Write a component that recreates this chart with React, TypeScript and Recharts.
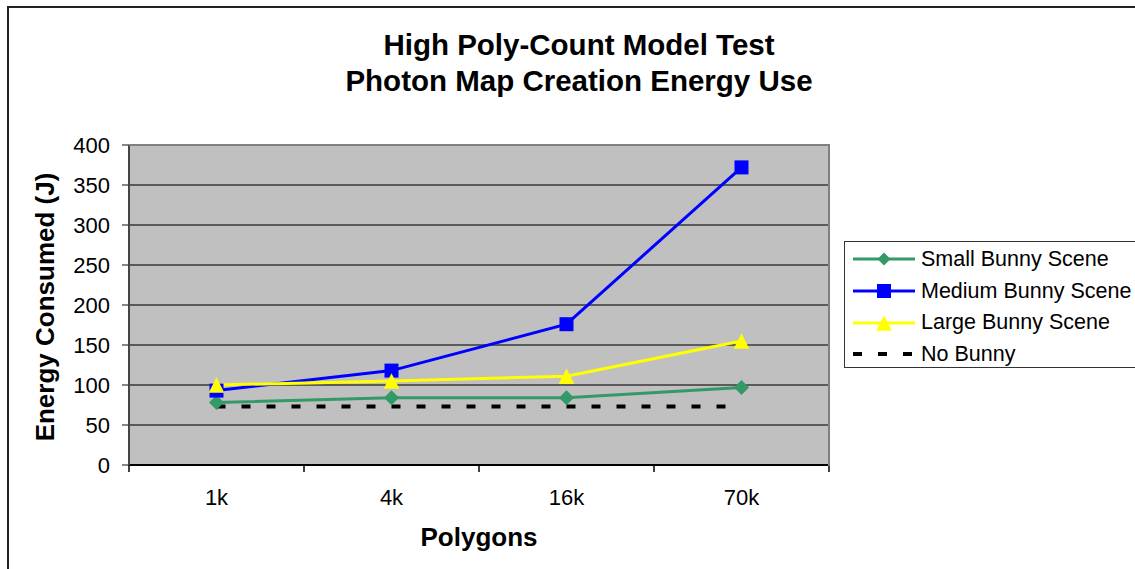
import { LineChart, Line, XAxis, YAxis, CartesianGrid } from 'recharts'

const polygons = ['1k', '4k', '16k', '70k']
const smallBunny = [78, 84, 84, 97]
const mediumBunny = [93, 118, 176, 372]
const largeBunny = [100, 105, 111, 155]
const noBunny = [73, 73, 73, 73]
const yTicks = [0, 50, 100, 150, 200, 250, 300, 350, 400]

const W = 1135
const H = 569
const PLOT_LEFT = 129
const PLOT_TOP = 145
const PLOT_W = 700
const PLOT_H = 320
const Y_AXIS_W = 60
const X_AXIS_H = 40
const BAND = PLOT_W / polygons.length
const FONT = '"Liberation Sans", Arial, Helvetica, sans-serif'

const GREEN = '#339966'
const BLUE = '#0000FF'
const YELLOW = '#FFFF00'

const data = polygons.map((p, i) => ({
  name: p,
  small: smallBunny[i],
  medium: mediumBunny[i],
  large: largeBunny[i],
  none: noBunny[i],
}))

const diamondPath = (x: number, y: number, r: number) =>
  `M${x},${y - r}L${x + r},${y}L${x},${y + r}L${x - r},${y}Z`
const trianglePath = (x: number, y: number, r: number) =>
  `M${x},${y - r}L${x + r},${y + r}L${x - r},${y + r}Z`

const DiamondDot = (p: any) =>
  p.cx == null ? null : <path key={`dd-${p.index}`} d={diamondPath(p.cx, p.cy, 7.5)} fill={GREEN} />
const SquareDot = (p: any) =>
  p.cx == null ? null : <rect key={`sd-${p.index}`} x={p.cx - 7} y={p.cy - 7} width={14} height={14} fill={BLUE} />
const TriangleDot = (p: any) =>
  p.cx == null ? null : <path key={`td-${p.index}`} d={trianglePath(p.cx, p.cy, 7.8)} fill={YELLOW} />

// x ticks sit between categories, labels in the middle
const XTick = (p: any) => {
  const axisY = PLOT_TOP + PLOT_H
  const last = p.index === polygons.length - 1
  return (
    <g>
      <line x1={p.x - BAND / 2} x2={p.x - BAND / 2} y1={axisY} y2={axisY + 7} stroke="#000" strokeWidth={1.5} />
      {last && <line x1={p.x + BAND / 2} x2={p.x + BAND / 2} y1={axisY} y2={axisY + 7} stroke="#000" strokeWidth={1.5} />}
      <text x={p.x} y={axisY + 40} textAnchor="middle" fontSize={22} fontFamily={FONT} fill="#000">
        {p.payload.value}
      </text>
    </g>
  )
}

const legendItems = [
  { name: 'Small Bunny Scene', color: GREEN, marker: 'diamond' },
  { name: 'Medium Bunny Scene', color: BLUE, marker: 'square' },
  { name: 'Large Bunny Scene', color: YELLOW, marker: 'triangle' },
  { name: 'No Bunny', color: '#000', marker: 'none' },
]

function ChartLegend() {
  return (
    <div
      style={{
        position: 'absolute',
        left: 844,
        top: 241,
        border: '1.5px solid #333',
        width: 320,
        height: 127,
        boxSizing: 'border-box',
        background: '#fff',
        paddingTop: 1.5,
        fontSize: 21.5,
      }}
    >
      {legendItems.map((it) => (
        <div key={it.name} style={{ height: 31.7, display: 'flex', alignItems: 'center' }}>
          <svg width={76} height={24} style={{ flex: 'none' }}>
            {it.marker === 'none' ? (
              <line x1={8} x2={70} y1={12} y2={12} stroke="#000" strokeWidth={4} strokeDasharray="9 16" />
            ) : (
              <line x1={8} x2={70} y1={12} y2={12} stroke={it.color} strokeWidth={3} />
            )}
            {it.marker === 'diamond' && <path d={diamondPath(39, 12, 6.5)} fill={it.color} />}
            {it.marker === 'square' && <rect x={32} y={5} width={14} height={14} fill={it.color} />}
            {it.marker === 'triangle' && <path d={trianglePath(39, 12, 7.8)} fill={it.color} />}
          </svg>
          <span style={{ color: '#000', whiteSpace: 'nowrap' }}>{it.name}</span>
        </div>
      ))}
    </div>
  )
}

export default function App() {
  return (
    <div
      style={{
        position: 'absolute',
        left: 0,
        top: 0,
        width: W,
        height: H,
        overflow: 'hidden',
        background: '#fff',
        fontFamily: FONT,
      }}
    >
      {/* outer chart frame, only left and top edges show */}
      <div
        style={{
          position: 'absolute',
          left: 7,
          top: 6,
          width: W + 20,
          height: H + 20,
          border: '2px solid #222',
        }}
      />
      <div
        style={{
          position: 'absolute',
          left: 0,
          width: 1158,
          top: 27,
          textAlign: 'center',
          fontSize: 29.5,
          fontWeight: 'bold',
          lineHeight: '36px',
          color: '#000',
        }}
      >
        High Poly-Count Model Test
        <br />
        Photon Map Creation Energy Use
      </div>
      <div
        style={{
          position: 'absolute',
          left: 45,
          top: 307,
          transform: 'translate(-50%, -50%) rotate(-90deg)',
          fontSize: 26,
          fontWeight: 'bold',
          whiteSpace: 'nowrap',
          color: '#000',
        }}
      >
        Energy Consumed (J)
      </div>
      <div
        style={{
          position: 'absolute',
          left: PLOT_LEFT + PLOT_W / 2,
          top: 537,
          transform: 'translate(-50%, -50%)',
          fontSize: 26,
          fontWeight: 'bold',
          whiteSpace: 'nowrap',
          color: '#000',
        }}
      >
        Polygons
      </div>
      <div style={{ position: 'absolute', left: 0, top: 0 }}>
        <LineChart
          width={W}
          height={H}
          data={data}
          margin={{
            top: PLOT_TOP,
            left: PLOT_LEFT - Y_AXIS_W,
            right: W - PLOT_LEFT - PLOT_W,
            bottom: H - PLOT_TOP - PLOT_H - X_AXIS_H,
          }}
        >
          <CartesianGrid vertical={false} fill="#C0C0C0" stroke="#3a3a3a" strokeWidth={1.3} fillOpacity={1} />
          <XAxis
            dataKey="name"
            height={X_AXIS_H}
            padding={{ left: BAND / 2, right: BAND / 2 }}
            axisLine={{ stroke: '#000', strokeWidth: 2 }}
            tickLine={false}
            tick={<XTick />}
            interval={0}
          />
          <YAxis
            width={Y_AXIS_W}
            domain={[0, 400]}
            ticks={yTicks}
            interval={0}
            axisLine={{ stroke: '#444', strokeWidth: 2 }}
            tickLine={{ stroke: '#444', strokeWidth: 1.3 }}
            tickSize={7}
            tickMargin={12}
            tick={{ fontSize: 22, fontFamily: FONT, fill: '#000' }}
          />
          <Line
            dataKey="small"
            name="Small Bunny Scene"
            stroke={GREEN}
            strokeWidth={3}
            dot={DiamondDot}
            activeDot={false}
            isAnimationActive={false}
          />
          <Line
            dataKey="medium"
            name="Medium Bunny Scene"
            stroke={BLUE}
            strokeWidth={3}
            dot={SquareDot}
            activeDot={false}
            isAnimationActive={false}
          />
          <Line
            dataKey="large"
            name="Large Bunny Scene"
            stroke={YELLOW}
            strokeWidth={3}
            dot={TriangleDot}
            activeDot={false}
            isAnimationActive={false}
          />
          <Line
            dataKey="none"
            name="No Bunny"
            stroke="#000"
            strokeWidth={4}
            strokeDasharray="9 16"
            dot={false}
            activeDot={false}
            isAnimationActive={false}
          />
        </LineChart>
      </div>
      {/* plot frame: grey top and right edges */}
      <div
        style={{
          position: 'absolute',
          left: PLOT_LEFT,
          top: PLOT_TOP - 1,
          width: PLOT_W - 1,
          height: PLOT_H,
          borderTop: '2px solid #808080',
          borderRight: '2px solid #808080',
          pointerEvents: 'none',
        }}
      />
      <ChartLegend />
    </div>
  )
}
